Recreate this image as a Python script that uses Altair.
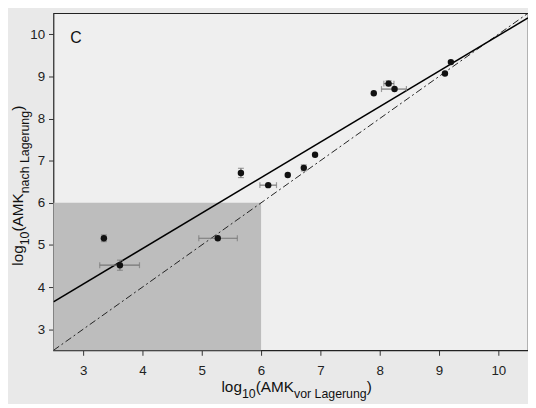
import altair as alt
import pandas as pd

# ---- data ----
x_vals = [3.35, 3.62, 5.27, 5.66, 6.12, 6.45, 6.72, 6.91, 7.90, 8.15, 8.25, 9.10, 9.20]
y_vals = [5.16, 4.52, 5.16, 6.71, 6.42, 6.66, 6.83, 7.14, 8.60, 8.83, 8.70, 9.07, 9.34]

# horizontal error bars
hx_y = [4.52, 5.16, 6.42, 8.83, 8.70]
hx_lo = [3.28, 4.95, 5.98, 8.07, 8.03]
hx_hi = [3.95, 5.60, 6.26, 8.24, 8.45]

# vertical error bars
vy_x = [3.35, 3.62, 5.66, 6.72, 8.15]
vy_lo = [5.08, 4.40, 6.60, 6.76, 8.78]
vy_hi = [5.24, 4.64, 6.82, 6.90, 8.90]

# regression line and identity line (end points)
fit_x = [2.5, 10.5]
fit_y = [3.65, 10.39]
id_x = [2.5, 10.5]
id_y = [2.5, 10.5]

# shaded region
shade_x = [2.5, 6.0]
shade_y = [2.5, 6.0]

ticks = [3, 4, 5, 6, 7, 8, 9, 10]
panel_label = "C"
panel_pos = [2.88, 9.80]

FONT = "Liberation Sans"
PW, PH = 480, 341
DOM = [2.5, 10.5]

xs = alt.Scale(domain=DOM, nice=False, zero=False)
ys = alt.Scale(domain=DOM, nice=False, zero=False)

pts = pd.DataFrame({"x": x_vals, "y": y_vals})
hx = pd.DataFrame({"y": hx_y, "lo": hx_lo, "hi": hx_hi})
vy = pd.DataFrame({"x": vy_x, "lo": vy_lo, "hi": vy_hi})
fit = pd.DataFrame({"x": fit_x, "y": fit_y})
ident = pd.DataFrame({"x": id_x, "y": id_y})
shade = pd.DataFrame({"x": [shade_x[0]], "x2": [shade_x[1]], "y": [shade_y[0]], "y2": [shade_y[1]]})

axis_x = alt.Axis(values=ticks, title=None, labelPadding=8, format="d")
axis_y = alt.Axis(values=ticks, title=None, labelPadding=4, format="d")

rect = alt.Chart(shade).mark_rect(color="#bdbdbd").encode(
    x=alt.X("x:Q", scale=xs, axis=axis_x), x2="x2:Q",
    y=alt.Y("y:Q", scale=ys, axis=axis_y), y2="y2:Q")

ident_line = alt.Chart(ident).mark_line(color="#222", strokeWidth=1, strokeDash=[7, 3, 2, 3], clip=True).encode(
    x=alt.X("x:Q", scale=xs), y=alt.Y("y:Q", scale=ys))

fit_line = alt.Chart(fit).mark_line(color="#000", strokeWidth=1.6, clip=True).encode(
    x=alt.X("x:Q", scale=xs), y=alt.Y("y:Q", scale=ys))

ERR = "#777777"
hbar = alt.Chart(hx).mark_rule(color=ERR, strokeWidth=1.2).encode(
    x=alt.X("lo:Q", scale=xs), x2="hi:Q", y=alt.Y("y:Q", scale=ys))
hcap_lo = alt.Chart(hx).mark_tick(color=ERR, orient="vertical", size=6, thickness=1.2).encode(
    x=alt.X("lo:Q", scale=xs), y=alt.Y("y:Q", scale=ys))
hcap_hi = alt.Chart(hx).mark_tick(color=ERR, orient="vertical", size=6, thickness=1.2).encode(
    x=alt.X("hi:Q", scale=xs), y=alt.Y("y:Q", scale=ys))
vbar = alt.Chart(vy).mark_rule(color=ERR, strokeWidth=1.2).encode(
    x=alt.X("x:Q", scale=xs), y=alt.Y("lo:Q", scale=ys), y2="hi:Q")
vcap_lo = alt.Chart(vy).mark_tick(color=ERR, orient="horizontal", size=6, thickness=1.2).encode(
    x=alt.X("x:Q", scale=xs), y=alt.Y("lo:Q", scale=ys))
vcap_hi = alt.Chart(vy).mark_tick(color=ERR, orient="horizontal", size=6, thickness=1.2).encode(
    x=alt.X("x:Q", scale=xs), y=alt.Y("hi:Q", scale=ys))

points = alt.Chart(pts).mark_point(filled=True, color="#111", size=42, opacity=1).encode(
    x=alt.X("x:Q", scale=xs), y=alt.Y("y:Q", scale=ys))

lab = alt.Chart(pd.DataFrame({"x": [panel_pos[0]], "y": [panel_pos[1]], "t": [panel_label]})).mark_text(
    font=FONT, fontSize=16, color="#111", align="center", baseline="alphabetic").encode(
    x=alt.X("x:Q", scale=xs), y=alt.Y("y:Q", scale=ys), text="t:N")

# ---- axis titles with subscripts ----
CW = {"l": 222, "o": 556, "g": 556, "1": 556, "0": 556, "(": 333, "A": 667, "M": 833,
      "K": 667, "v": 500, "r": 333, " ": 278, "L": 556, "a": 556, "e": 556, "u": 556,
      "n": 556, ")": 333, "c": 500, "h": 556}
BIG, SMALL, SUB = 15.5, 12.5, 6


def tw(s, fs):
    return sum(CW.get(c, 556) for c in s) / 1000 * fs


def seg_chart(text, x, y, fs, angle=0):
    kw = dict(font=FONT, fontSize=fs, color="#111", align="left", baseline="alphabetic")
    if angle:
        kw["angle"] = angle
    return alt.Chart(pd.DataFrame({"t": [text]})).mark_text(**kw).encode(
        x=alt.value(x), y=alt.value(y), text="t:N")


title_layers = []
xt = [("log", 0), ("10", 1), ("(AMK", 0), ("vor Lagerung", 1), (")", 0)]
total = sum(tw(s, SMALL if sub else BIG) for s, sub in xt)
cur = 246 - total / 2
for s, sub in xt:
    fs = SMALL if sub else BIG
    title_layers.append(seg_chart(s, cur, 383 + (SUB if sub else 0), fs))
    cur += tw(s, fs)

yt = [("log", 0), ("10", 1), ("(AMK", 0), ("nach Lagerung", 1), (")", 0)]
total = sum(tw(s, SMALL if sub else BIG) for s, sub in yt)
cur = 174.5 + total / 2
for s, sub in yt:
    fs = SMALL if sub else BIG
    title_layers.append(seg_chart(s, -31 + (SUB if sub else 0), cur, fs, angle=270))
    cur -= tw(s, fs)

chart = alt.layer(rect, ident_line, fit_line, hbar, hcap_lo, hcap_hi, vbar, vcap_lo, vcap_hi,
                  points, lab, *title_layers).properties(
    width=PW, height=PH,
    autosize=alt.AutoSizeParams(type="none"),
    padding={"left": 46, "top": 3, "right": 0, "bottom": 52},
    background="#e9e9e9",
).configure_view(
    stroke="#222", strokeWidth=1.2, fill="#efefef"
).configure_axis(
    domain=False, grid=False, tickColor="#333", tickSize=5, tickWidth=1,
    labelFont=FONT, labelFontSize=13.5, labelColor="#222"
)

chart.save("out.html", embed_options={"renderer": "svg", "actions": False})
